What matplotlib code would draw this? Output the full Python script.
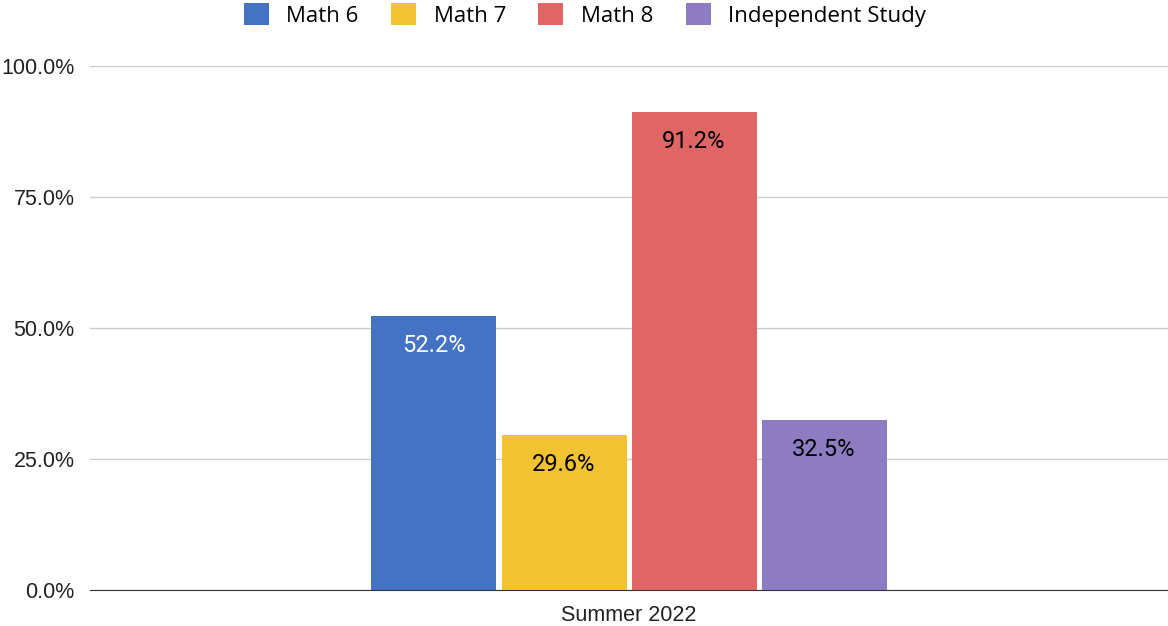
import matplotlib
matplotlib.use("Agg")
import matplotlib.pyplot as plt
from matplotlib.patches import Patch

# Dados
categoria = "Summer 2022"
series = ["Math 6", "Math 7", "Math 8", "Independent Study"]
valores = [52.2, 29.6, 91.2, 32.5]
cores = ["#4472C4", "#F1C232", "#E06666", "#8E7CC3"]
cores_texto = ["white", "black", "black", "black"]
yticks = [0, 25, 50, 75, 100]

fig = plt.figure(figsize=(11.68, 6.26), dpi=100)
ax = fig.add_axes([90 / 1168, 1 - 590 / 626, 1 - 90 / 1168, (590 - 66) / 626])

largura = 125 / 1078
passo = 130 / 1078
for i, (s, v, c, ct) in enumerate(zip(series, valores, cores, cores_texto)):
    x = (i - 1.5) * passo
    ax.bar(x, v, width=largura, color=c, zorder=3)
    ax.text(x, v - 5.6, f"{v:.1f}%", ha="center", va="center", color=ct,
            fontsize=17, family="Roboto", zorder=4)

ax.set_xlim(-0.5, 0.5)
ax.set_ylim(0, 100)
ax.set_yticks(yticks)
ax.set_yticklabels([f"{t:.1f}%" for t in yticks], family="Liberation Sans",
                   fontsize=15.5, color="#222222")
ax.set_xticks([0])
ax.set_xticklabels([categoria], family="Liberation Sans", fontsize=15.5, color="#222222")
ax.tick_params(length=0, pad=11)
ax.tick_params(axis="y", pad=11)
ax.grid(axis="y", color="#cccccc", linewidth=1, zorder=0)
for lado in ["top", "right", "left"]:
    ax.spines[lado].set_visible(False)
ax.spines["bottom"].set_color("#333333")
ax.spines["bottom"].set_zorder(5)

handles = [Patch(facecolor=c, label=s) for s, c in zip(series, cores)]
fig.legend(handles=handles, loc="center", bbox_to_anchor=(585 / 1168, 1 - 15 / 626),
           ncol=4, frameon=False, prop={"family": "Open Sans", "size": 16},
           handlelength=1.12, handleheight=1.1, columnspacing=1.45, handletextpad=0.8,
           borderpad=0)

fig.savefig("out.png", dpi=100)
